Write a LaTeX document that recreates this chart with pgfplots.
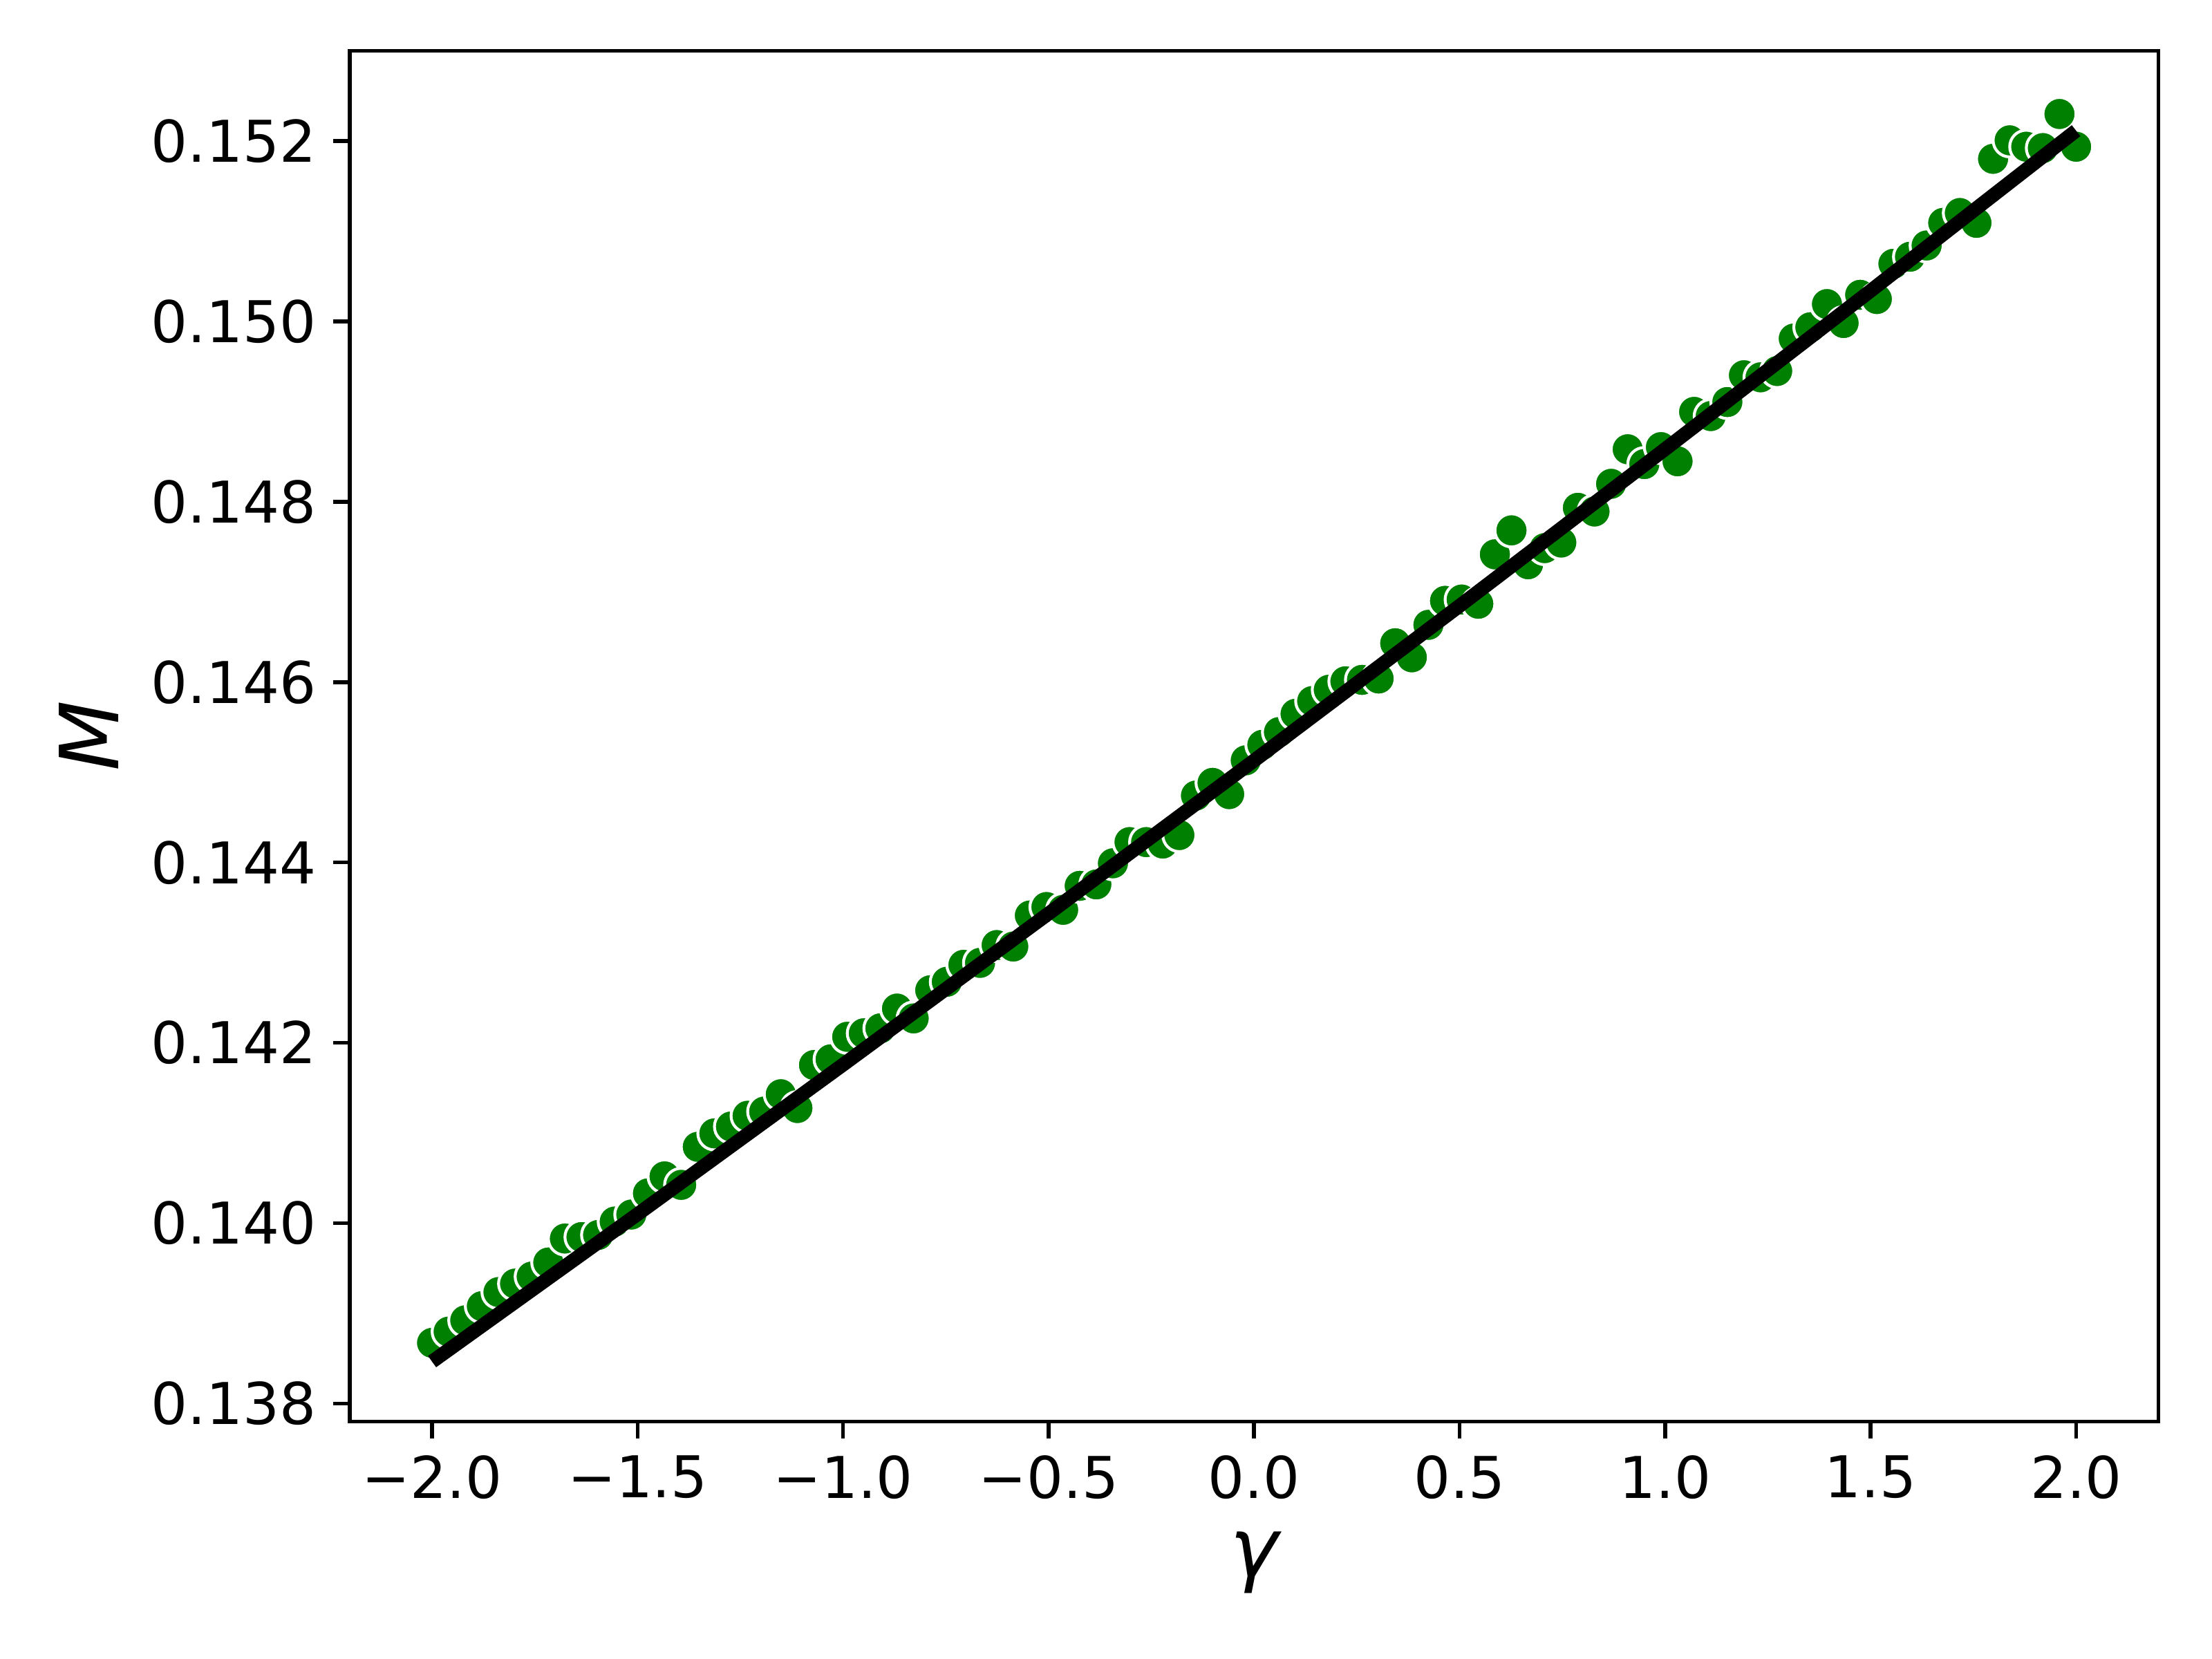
\documentclass[border=0pt]{standalone}
\usepackage{pgfplots}
\pgfplotsset{compat=1.18}
\usepackage{fontspec}
\setmainfont{DejaVu Sans}
\usetikzlibrary{calc}
\definecolor{mplgreen}{HTML}{008000}
\begin{document}
\begin{tikzpicture}
\begin{axis}[
  scale only axis,
  width=376.8pt, height=285.6pt,
  xmin=-2.2, xmax=2.2,
  ymin=0.13780, ymax=0.15300,
  axis line style={line width=0.8pt},
  tick style={black, line width=0.8pt},
  tick align=outside,
  major tick length=3.5pt,
  tick pos=left,
  xtick={-2,-1.5,-1,-0.5,0,0.5,1,1.5,2},
  xticklabels={−2.0,−1.5,−1.0,−0.5,0.0,0.5,1.0,1.5,2.0},
  ytick={0.138,0.140,0.142,0.144,0.146,0.148,0.150,0.152},
  yticklabels={0.138,0.140,0.142,0.144,0.146,0.148,0.150,0.152},
  ticklabel style={font=\fontsize{12}{14.4}\selectfont},
  xlabel={\fontsize{17}{20}\selectfont\itshape γ},
  ylabel={\fontsize{17}{20}\selectfont\itshape M},
  clip marker paths=true,
]
\addplot[only marks, mark=*, mark size=3.45pt,
  mark options={fill=mplgreen, draw=white, line width=0.6pt}] coordinates {
(-2.0000,0.138673) (-1.9596,0.138798) (-1.9192,0.138923) (-1.8788,0.139080)
(-1.8384,0.139236) (-1.7980,0.139330) (-1.7576,0.139408) (-1.7172,0.139564)
(-1.6768,0.139830) (-1.6364,0.139846) (-1.5960,0.139869) (-1.5556,0.140018)
(-1.5152,0.140096) (-1.4747,0.140331) (-1.4343,0.140519) (-1.3939,0.140425)
(-1.3535,0.140847) (-1.3131,0.140996) (-1.2727,0.141072) (-1.2323,0.141191)
(-1.1919,0.141238) (-1.1515,0.141430) (-1.1111,0.141277) (-1.0707,0.141754)
(-1.0303,0.141817) (-0.9899,0.142067) (-0.9495,0.142106) (-0.9091,0.142161)
(-0.8687,0.142380) (-0.8283,0.142271) (-0.7879,0.142583) (-0.7475,0.142677)
(-0.7071,0.142865) (-0.6667,0.142887) (-0.6263,0.143084) (-0.5859,0.143068)
(-0.5455,0.143412) (-0.5051,0.143506) (-0.4646,0.143475) (-0.4242,0.143741)
(-0.3838,0.143757) (-0.3434,0.143991) (-0.3030,0.144226) (-0.2626,0.144226)
(-0.2222,0.144210) (-0.1818,0.144304) (-0.1414,0.144742) (-0.1010,0.144883)
(-0.0606,0.144758) (-0.0202,0.145133) (0.0202,0.145305) (0.0606,0.145446)
(0.1010,0.145649) (0.1414,0.145790) (0.1818,0.145915) (0.2222,0.146009)
(0.2626,0.146025) (0.3030,0.146040) (0.3434,0.146431) (0.3838,0.146275)
(0.4242,0.146635) (0.4646,0.146901) (0.5051,0.146916) (0.5455,0.146869)
(0.5859,0.147417) (0.6263,0.147683) (0.6667,0.147307) (0.7071,0.147486)
(0.7475,0.147548) (0.7879,0.147933) (0.8283,0.147892) (0.8687,0.148199)
(0.9091,0.148582) (0.9495,0.148418) (0.9899,0.148606) (1.0303,0.148449)
(1.0707,0.148997) (1.1111,0.148950) (1.1515,0.149106) (1.1919,0.149403)
(1.2323,0.149380) (1.2727,0.149450) (1.3131,0.149810) (1.3535,0.149935)
(1.3939,0.150192) (1.4343,0.149982) (1.4747,0.150295) (1.5152,0.150248)
(1.5556,0.150639) (1.5960,0.150717) (1.6364,0.150842) (1.6768,0.151093)
(1.7172,0.151202) (1.7576,0.151093) (1.7980,0.151803) (1.8384,0.152008)
(1.8788,0.151937) (1.9192,0.151922) (1.9596,0.152300) (2.0000,0.151937)
};
\addplot[black, line width=2.9pt, no marks] coordinates {
(-2.0,0.138465) (-1.5,0.140100) (-1.0,0.141758) (-0.5,0.143434)
(0.0,0.145130) (0.5,0.146846) (1.0,0.148583) (1.5,0.150339) (2.0,0.152115)
};
\end{axis}
\pgfresetboundingbox
\path[use as bounding box] ($(current axis.south west)+(-72.9pt,-49.4pt)$) rectangle ($(current axis.north east)+(11.2pt,10.6pt)$);
\end{tikzpicture}
\end{document}
